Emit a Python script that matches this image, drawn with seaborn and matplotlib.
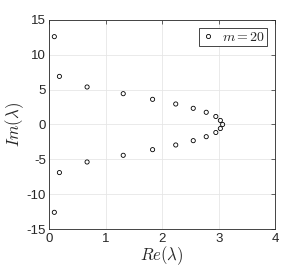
import matplotlib
matplotlib.use("Agg")
import matplotlib.pyplot as plt
import seaborn as sns
import pandas as pd
from matplotlib.lines import Line2D

re_upper = [0.09, 0.18, 0.67, 1.31, 1.83, 2.24, 2.55, 2.78, 2.95, 3.03]
im_upper = [12.6, 6.9, 5.38, 4.42, 3.61, 2.94, 2.32, 1.75, 1.15, 0.58]
re_real = [3.07]
im_real = [0.0]
re_lower = [0.09, 0.18, 0.67, 1.31, 1.83, 2.24, 2.55, 2.78, 2.95, 3.03]
im_lower = [-12.6, -6.9, -5.38, -4.42, -3.61, -2.94, -2.32, -1.75, -1.15, -0.58]
series_label = "$m = 20$"

x_ticks = [0, 1, 2, 3, 4]
y_ticks = [-15, -10, -5, 0, 5, 10, 15]

df = pd.DataFrame({
    "re": re_upper + re_real + re_lower,
    "im": im_upper + im_real + im_lower,
    "series": [series_label] * (len(re_upper) + len(re_real) + len(re_lower)),
})

sns.set_style("white")
plt.rcParams["font.family"] = ["Liberation Sans", "DejaVu Sans"]
plt.rcParams["mathtext.fontset"] = "cm"

fig = plt.figure(figsize=(3.04, 2.73), dpi=100)
ax = fig.add_axes([0.162, 0.161, 0.743, 0.766])

sns.scatterplot(data=df, x="re", y="im", hue="series", palette=["black"],
                marker="o", s=9, linewidth=0.6, legend=False, ax=ax)
for coll in ax.collections:
    coll.set_facecolor("none")
    coll.set_edgecolor("black")

ax.set_xlim(0, 4)
ax.set_ylim(-15, 15)
ax.set_xticks(x_ticks)
ax.set_yticks(y_ticks)
ax.set_xticklabels([str(t) for t in x_ticks])
ax.set_yticklabels([str(t) for t in y_ticks])
ax.tick_params(direction="in", length=3, width=0.5, labelsize=9.5,
               top=True, right=True, colors="#262626", labelcolor="#262626", pad=2.5)
ax.grid(True, color="#e6e6e6", linewidth=0.6)
ax.set_axisbelow(True)
for sp in ax.spines.values():
    sp.set_linewidth(0.6)
    sp.set_color("#262626")
    sp.set_visible(True)

ax.set_xlabel(r"$Re(\lambda)$", fontsize=12, labelpad=0, color="#262626")
ax.set_ylabel(r"$Im(\lambda)$", fontsize=12, labelpad=0, color="#262626")

h = Line2D([], [], marker="o", linestyle="none", markersize=3,
           markerfacecolor="none", markeredgecolor="black", markeredgewidth=0.6)
leg = ax.legend([h], [series_label], loc="upper right", fontsize=10,
                frameon=True, fancybox=False, edgecolor="#262626",
                handlelength=1.0, handletextpad=0.5, borderpad=0.15,
                borderaxespad=0.6, framealpha=1)
leg.get_frame().set_linewidth(0.6)

fig.savefig("out.png", dpi=100)
